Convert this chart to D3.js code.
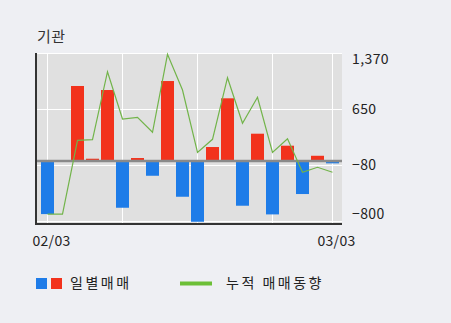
<!DOCTYPE html>
<html>
<head>
<meta charset="utf-8">
<script src="https://cdn.jsdelivr.net/npm/d3@7"></script>
<style>
  html, body { margin: 0; padding: 0; background: #eeeff3; }
  svg text { font-family: "Noto Sans CJK KR", "DejaVu Sans", sans-serif; fill: #222; }
</style>
</head>
<body>
<svg id="chart" width="451" height="323"></svg>
<script>
// trading days (2022)
const dates = ["02/03","02/04","02/07","02/08","02/09","02/10","02/11","02/14","02/15","02/16",
  "02/17","02/18","02/21","02/22","02/23","02/24","02/25","02/28","03/02","03/03"];
// daily net trading (bars)
const daily = [-685, 0, 969, 30, 917, -603, 39, -190, 1033, -461,
  -784, 181, 810, -577, 353, -689, 198, -426, 68, -30];
// cumulative trend (line)
const cumulative = [-710, -710, 242, 250, 1128, 517, 539, 346, 1353, 892,
  85, 255, 1051, 462, 798, 87, 263, -171, -106, -171];
const yTicks = [-800, -80, 650, 1370];
const gridDates = ["02/03", "02/10", "02/17", "02/24", "03/03"];
const labelDates = ["02/03", "03/03"];

const svg = d3.select("#chart");
const plotLeft = 37, plotRight = 342, plotTop = 53, plotBottom = 223;

// title
svg.append("text").attr("x", 37).attr("y", 42)
  .style("font-size", "15px").style("letter-spacing", "0.5px").style("fill", "#333").text("기관");

// plot background
svg.append("rect").attr("x", plotLeft).attr("y", plotTop)
  .attr("width", plotRight - plotLeft).attr("height", plotBottom - plotTop)
  .attr("fill", "#e0e0e0");

const x = d3.scaleBand().domain(dates).range([40, 340])
  .paddingInner(2 / 15).paddingOuter(1 / 15);
const cx = d => x(d) + x.bandwidth() / 2;

const yLine = d3.scaleLinear().domain([-800, 1370]).range([221, 53]);
const yBar = d3.scaleLinear().domain([-800, 1395]).range([223, 53]);

// grid
svg.append("g").selectAll("line").data(gridDates).enter().append("line")
  .attr("x1", d => cx(d)).attr("x2", d => cx(d))
  .attr("y1", plotTop).attr("y2", plotBottom)
  .attr("stroke", "#fff").attr("stroke-width", 1);
svg.append("g").selectAll("line").data(yTicks).enter().append("line")
  .attr("x1", plotLeft).attr("x2", plotRight)
  .attr("y1", d => Math.round(yLine(d)) + 0.5).attr("y2", d => Math.round(yLine(d)) + 0.5)
  .attr("stroke", "#fff").attr("stroke-width", 1);

// bars
svg.append("g").selectAll("rect").data(dates).enter().append("rect")
  .attr("x", d => x(d))
  .attr("width", x.bandwidth())
  .attr("y", (d, i) => daily[i] >= 0 ? yBar(daily[i]) : yBar(0))
  .attr("height", (d, i) => Math.abs(yBar(daily[i]) - yBar(0)))
  .attr("fill", (d, i) => daily[i] >= 0 ? "#f2321c" : "#1e7ce8");

// zero line
svg.append("line").attr("x1", plotLeft).attr("x2", plotRight)
  .attr("y1", yBar(0)).attr("y2", yBar(0))
  .attr("stroke", "#8a8a8a").attr("stroke-width", 2.5);

// cumulative line
const line = d3.line().x((d, i) => cx(dates[i])).y(d => yLine(d));
svg.append("path").datum(cumulative)
  .attr("d", line).attr("fill", "none")
  .attr("stroke", "#72b44a").attr("stroke-width", 1.2);

// axes lines
svg.append("line").attr("x1", 36).attr("x2", 36).attr("y1", plotTop).attr("y2", plotBottom + 2)
  .attr("stroke", "#333").attr("stroke-width", 2);
svg.append("line").attr("x1", 35).attr("x2", plotRight).attr("y1", plotBottom + 1).attr("y2", plotBottom + 1)
  .attr("stroke", "#333").attr("stroke-width", 2);

// right axis labels
svg.append("g").selectAll("text").data(yTicks).enter().append("text")
  .attr("x", 352)
  .attr("y", d => d === 1370 ? yLine(d) + 6 : d === -800 ? yLine(d) - 7 : yLine(d))
  .attr("dy", "0.35em")
  .style("font-size", "14px").style("letter-spacing", "0.4px")
  .text(d => d3.format(",")(d).replace("-", "\u2212"));

// x labels
svg.append("g").selectAll("text").data(labelDates).enter().append("text")
  .attr("x", d => cx(d) + 4).attr("y", 246)
  .attr("text-anchor", "middle")
  .style("font-size", "14px").style("letter-spacing", "0.3px")
  .text(d => d);

// legend
svg.append("rect").attr("x", 36).attr("y", 278).attr("width", 11).attr("height", 11).attr("fill", "#1e7ce8");
svg.append("rect").attr("x", 51).attr("y", 278).attr("width", 11).attr("height", 11).attr("fill", "#f2321c");
svg.append("text").attr("x", 70).attr("y", 283.5).attr("dy", "0.35em")
  .style("font-size", "14px").style("letter-spacing", "2.5px").text("일별매매");
svg.append("line").attr("x1", 180).attr("x2", 212).attr("y1", 283.5).attr("y2", 283.5)
  .attr("stroke", "#6cbf36").attr("stroke-width", 4);
svg.append("text").attr("x", 226).attr("y", 283.5).attr("dy", "0.35em")
  .style("font-size", "14px").style("letter-spacing", "2.5px").text("누적 매매동향");
</script>
</body>
</html>
